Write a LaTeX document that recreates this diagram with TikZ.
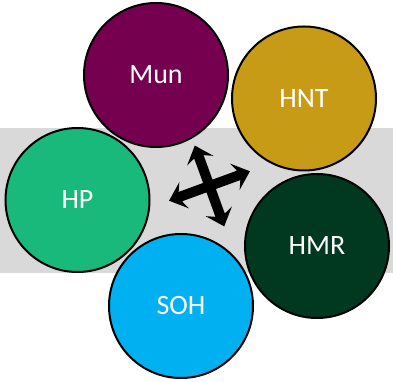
\documentclass[tikz,border=0pt]{standalone}
\usepackage{fontspec}
\setmainfont{Carlito}
\definecolor{munC}{RGB}{117,0,79}
\definecolor{hntC}{RGB}{200,155,22}
\definecolor{hpC}{RGB}{24,185,122}
\definecolor{hmrC}{RGB}{0,56,32}
\definecolor{sohC}{RGB}{0,176,240}
\definecolor{bandC}{RGB}{217,217,217}
\begin{document}
\begin{tikzpicture}[x=1pt,y=1pt,
  ball/.style={circle,draw=black,line width=2pt,minimum size=144pt,inner sep=0pt,
    text=white,font=\fontsize{28}{30}\selectfont}]
\useasboundingbox (0,0) rectangle (393,382);
% grey band behind the circles
\fill[bandC] (0,109) rectangle (393,254);
% the five circles
\node[ball,fill=munC] (mun) at (156,307) {Mun};
\node[ball,fill=hntC] (hnt) at (304,283.5) {HNT};
\node[ball,fill=hpC]  (hp)  at (77.5,182) {HP};
\node[ball,fill=hmrC] (hmr) at (317,136) {HMR};
\node[ball,fill=sohC] (soh) at (181,76) {SOH};
% four-way arrow in the middle
\begin{scope}[shift={(209.5,196)},rotate=20]
\def\L{43}\def\H{16}\def\W{14}\def\S{5}\def\I{12}
\fill[black]
  (\L,0) -- (\L-\H,\W) -- (\L-\I,\S) -- (\S,\S) --
  (\S,\L-\I) -- (\W,\L-\H) -- (0,\L) -- (-\W,\L-\H) -- (-\S,\L-\I) -- (-\S,\S) --
  (-\L+\I,\S) -- (-\L+\H,\W) -- (-\L,0) -- (-\L+\H,-\W) -- (-\L+\I,-\S) -- (-\S,-\S) --
  (-\S,-\L+\I) -- (-\W,-\L+\H) -- (0,-\L) -- (\W,-\L+\H) -- (\S,-\L+\I) -- (\S,-\S) --
  (\L-\I,-\S) -- (\L-\H,-\W) -- cycle;
\end{scope}
\end{tikzpicture}
\end{document}
